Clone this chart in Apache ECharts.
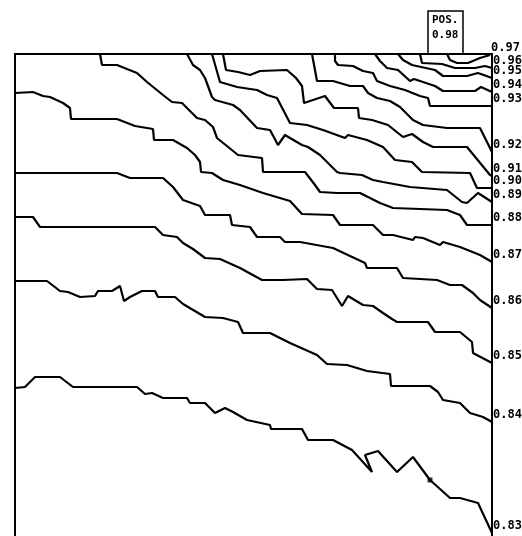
<!DOCTYPE html>
<html>
<head>
<meta charset="utf-8">
<style>
  html, body { margin: 0; padding: 0; background: #fff; }
  #chart { width: 522px; height: 536px; }
</style>
<script src="https://cdn.jsdelivr.net/npm/echarts@6/dist/echarts.min.js"></script>
</head>
<body>
<div id="chart"></div>
<script>
// Contour levels (labels on the right edge)
const levels = ['0.83','0.84','0.85','0.86','0.87','0.88','0.89','0.90','0.91','0.92','0.93','0.94','0.95','0.96','0.97'];
// Box annotation
const posTitle = 'POS.';
const posValue = '0.98';

// Contour paths: [distance across, distance down] in plot units (0..477 across, 0..482 down)
const c083 = [[0,334],[10,333],[20,323],[45,323],[58,333],[122,333],[130,340],[137,339],[148,344],[172,344],[175,349],[190,349],[200,359],[210,354],[218,358],[232,366],[255,371],[256,375],[287,375],[293,386],[318,386],[337,396],[357,418],[350,401],[363,397],[382,418],[398,403],[415,426],[435,444],[445,444],[463,449],[477,479]];
const c084 = [[0,227],[32,227],[45,237],[53,238],[65,243],[80,242],[83,237],[97,237],[105,232],[109,247],[115,243],[127,237],[140,237],[143,243],[160,243],[168,250],[190,263],[208,264],[223,268],[228,279],[255,279],[275,289],[302,301],[312,310],[332,311],[352,317],[375,320],[376,332],[415,332],[423,338],[428,346],[445,349],[455,359],[468,363],[477,368]];
const c085 = [[0,163],[18,163],[25,173],[140,173],[148,181],[162,183],[168,189],[178,195],[190,204],[205,205],[225,214],[247,226],[268,226],[292,225],[302,235],[317,236],[327,252],[333,242],[348,251],[358,252],[368,259],[377,265],[382,268],[413,268],[420,278],[445,278],[457,288],[458,299],[477,309]];
const c086 = [[0,119],[102,119],[115,124],[148,124],[158,133],[168,146],[185,152],[190,161],[215,161],[217,171],[235,173],[242,183],[265,183],[270,188],[285,188],[318,194],[350,209],[352,214],[382,214],[388,224],[422,226],[435,231],[447,231],[458,239],[465,246],[477,254]];
const c087 = [[0,39],[18,38],[28,42],[35,43],[48,49],[55,54],[56,65],[102,65],[120,72],[138,75],[139,86],[158,86],[172,94],[180,101],[185,108],[186,118],[197,119],[208,126],[225,131],[248,139],[275,147],[287,160],[318,161],[325,171],[358,171],[368,181],[378,181],[398,186],[400,183],[408,184],[425,191],[428,188],[445,193],[465,201],[477,208]];
const c088 = [[85,0],[87,11],[102,11],[122,19],[132,28],[148,41],[157,48],[167,49],[182,64],[190,66],[198,73],[202,84],[223,101],[247,104],[248,118],[290,118],[300,131],[305,138],[322,139],[345,139],[365,149],[378,154],[432,156],[445,161],[452,171],[477,171]];
const c089 = [[172,0],[178,11],[185,16],[190,24],[197,43],[200,46],[218,51],[225,56],[242,74],[255,76],[263,91],[270,81],[275,84],[287,91],[293,93],[305,101],[322,118],[325,119],[347,121],[358,126],[368,128],[395,133],[432,136],[447,148],[452,149],[463,139],[477,148]];
const c090 = [[197,0],[205,28],[222,33],[242,36],[252,41],[262,44],[275,69],[292,71],[308,76],[330,84],[333,81],[352,86],[368,93],[380,106],[397,108],[407,118],[455,119],[462,134],[477,134]];
const c091 = [[208,0],[211,16],[223,18],[235,21],[245,17],[272,16],[281,24],[287,32],[289,49],[298,46],[310,42],[319,54],[343,54],[344,64],[357,66],[373,71],[388,83],[397,80],[408,88],[418,93],[452,93],[475,121],[477,122]];
const c092 = [[297,0],[302,27],[318,27],[335,32],[348,32],[353,39],[362,44],[375,47],[385,53],[398,66],[408,71],[432,74],[465,74],[477,98]];
const c093 = [[320,0],[320,7],[323,11],[338,12],[348,17],[358,19],[362,27],[375,32],[390,36],[405,42],[413,44],[415,52],[477,52]];
const c094 = [[360,0],[365,7],[372,14],[383,16],[395,27],[399,25],[420,32],[428,37],[460,37],[466,33],[477,38]];
const c095 = [[383,0],[388,6],[397,11],[420,16],[428,22],[452,22],[463,19],[477,24]];
const c096 = [[405,0],[407,9],[427,10],[440,14],[460,14],[470,12],[477,14]];
const c097 = [[432,0],[435,6],[442,9],[453,9],[465,4],[475,1]];

const paths = [c083,c084,c085,c086,c087,c088,c089,c090,c091,c092,c093,c094,c095,c096,c097];
// A pen dot drawn on the 0.83 contour
const dotPoints = [c083[27]];

const labelFont = 'DejaVu Sans Mono';

const series = paths.map((p, i) => ({
  name: levels[i],
  type: 'line',
  data: p,
  symbol: 'none',
  showSymbol: false,
  clip: false,
  silent: true,
  lineStyle: { color: '#000', width: 2.2 },
  endLabel: {
    show: true,
    formatter: '{a}',
    distance: 0,
    offset: [1, -7],
    color: '#000',
    fontFamily: labelFont,
    fontWeight: 'bold',
    fontSize: 12
  }
}));
series.push({
  type: 'scatter', data: dotPoints, symbol: 'rect', symbolSize: 5, silent: true,
  itemStyle: { color: '#000' }
});

const chart = echarts.init(document.getElementById('chart'), null, { renderer: 'canvas' });
chart.setOption({
  animation: false,
  backgroundColor: '#fff',
  grid: { left: 15, right: 30, top: 54, bottom: 0, containLabel: false, outerBoundsMode: 'none' },
  xAxis: {
    type: 'value', min: 0, max: 477, position: 'top',
    axisLine: { show: true, onZero: false, lineStyle: { color: '#000', width: 2 } },
    axisTick: { show: false }, axisLabel: { show: false }, splitLine: { show: false }
  },
  yAxis: [
    {
      type: 'value', min: 0, max: 482, inverse: true, position: 'left',
      axisLine: { show: true, onZero: false, lineStyle: { color: '#000', width: 2 } },
      axisTick: { show: false }, axisLabel: { show: false }, splitLine: { show: false }
    },
    {
      type: 'value', min: 0, max: 482, inverse: true, position: 'right',
      axisLine: { show: true, onZero: false, lineStyle: { color: '#000', width: 2 } },
      axisTick: { show: false }, axisLabel: { show: false }, splitLine: { show: false }
    }
  ],
  graphic: [
    { type: 'rect', shape: { x: 428, y: 11, width: 35, height: 43 },
      style: { fill: 'none', stroke: '#000', lineWidth: 1.5 } },
    { type: 'text', x: 432, y: 20,
      style: { text: posTitle, fill: '#000', font: 'bold 11px "DejaVu Sans Mono"', verticalAlign: 'middle' } },
    { type: 'text', x: 432, y: 35,
      style: { text: posValue, fill: '#000', font: 'bold 11px "DejaVu Sans Mono"', verticalAlign: 'middle' } }
  ],
  series: series
});
</script>
</body>
</html>
